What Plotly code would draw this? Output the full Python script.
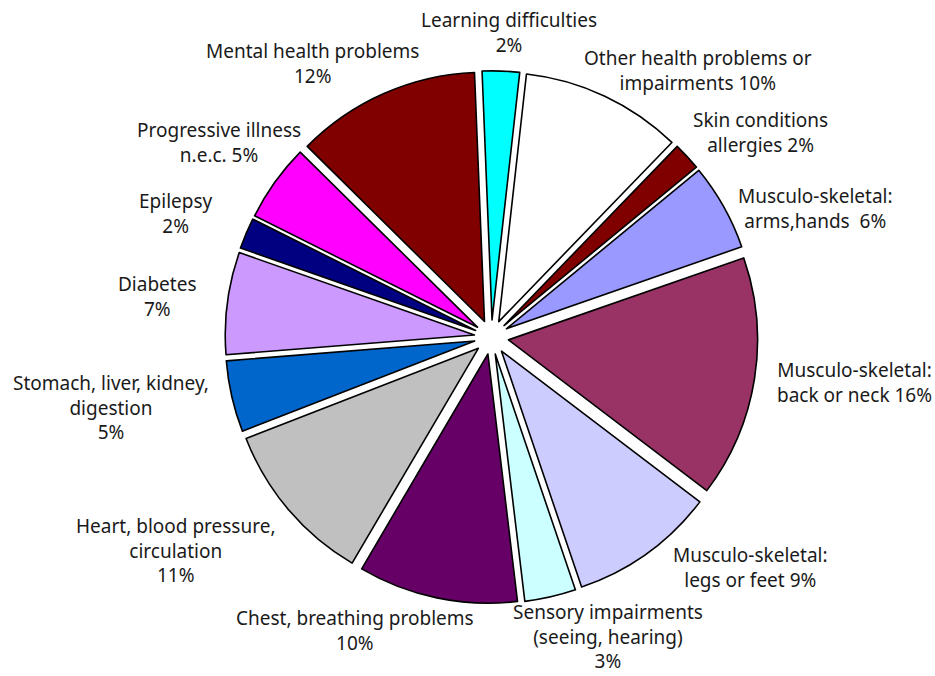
import plotly.graph_objects as go

# ---------------- data ----------------
categories = [
    "Learning difficulties",
    "Other health problems or impairments",
    "Skin conditions allergies",
    "Musculo-skeletal: arms,hands",
    "Musculo-skeletal: back or neck",
    "Musculo-skeletal: legs or feet",
    "Sensory impairments (seeing, hearing)",
    "Chest, breathing problems",
    "Heart, blood pressure, circulation",
    "Stomach, liver, kidney, digestion",
    "Diabetes",
    "Epilepsy",
    "Progressive illness n.e.c.",
    "Mental health problems",
]
values = [2.4, 10.4, 1.8, 5.6, 15.6, 9.4, 3.3, 10.3, 10.6, 4.6, 6.6, 2.0, 5.0, 11.9]
label_text = [
    "Learning difficulties<br>2%",
    "Other health problems or<br>impairments 10%",
    "Skin conditions<br>allergies 2%",
    "Musculo-skeletal:<br>arms,hands  6%",
    "Musculo-skeletal:<br>back or neck 16%",
    "Musculo-skeletal:<br>legs or feet 9%",
    "Sensory impairments<br>(seeing, hearing)<br>3%",
    "Chest, breathing problems<br>10%",
    "Heart, blood pressure,<br>circulation<br>11%",
    "Stomach, liver, kidney,<br>digestion<br>5%",
    "Diabetes<br>7%",
    "Epilepsy<br>2%",
    "Progressive illness<br>n.e.c. 5%",
    "Mental health problems<br>12%",
]

# ---------------- style / layout ----------------
colors = ["#00FFFF", "#FFFFFF", "#800000", "#9999FF", "#993366", "#CCCCFF",
          "#CCFFFF", "#660066", "#C0C0C0", "#0066CC", "#CC99FF", "#000080",
          "#FF00FF", "#800000"]

W, H = 935, 676
FONT = dict(family="Noto Sans", size=19, color="#1a1a1a")
LINE_H = 25.5
# label block placement (centre x, first-line centre y), in pixels
label_pos_px = [
    (509, 20), (698, 58), (760, 120), (815, 196), (854, 370),
    (750, 555), (608, 611), (355, 618), (175, 525), (111, 382),
    (157, 284), (176, 201), (219, 130), (312, 51),
]

fig = go.Figure(go.Pie(
    labels=categories,
    values=values,
    textinfo="none",
    sort=False,
    direction="clockwise",
    rotation=-2.3,
    pull=0.069,
    automargin=False,
    marker=dict(colors=colors, line=dict(color="#000000", width=1.6)),
    domain=dict(x=[0.2256, 0.8256], y=[0.1072, 0.8952]),
    hoverinfo="label+percent",
))

annotations = []
for txt, (px, py) in zip(label_text, label_pos_px):
    n = txt.count("<br>") + 1
    cy = py + (n - 1) * LINE_H / 2
    annotations.append(dict(
        text=txt, x=px / W, y=1 - cy / H, xref="paper", yref="paper",
        xanchor="center", yanchor="middle", align="center",
        showarrow=False, font=FONT,
    ))

fig.update_layout(
    width=W, height=H,
    margin=dict(l=0, r=0, t=0, b=0, autoexpand=False),
    showlegend=False,
    paper_bgcolor="white",
    plot_bgcolor="white",
    annotations=annotations,
)
fig.write_html(
    "out.html",
    config={"displayModeBar": False},
    post_script="document.body.style.margin='0';document.body.style.overflow='hidden';",
)
